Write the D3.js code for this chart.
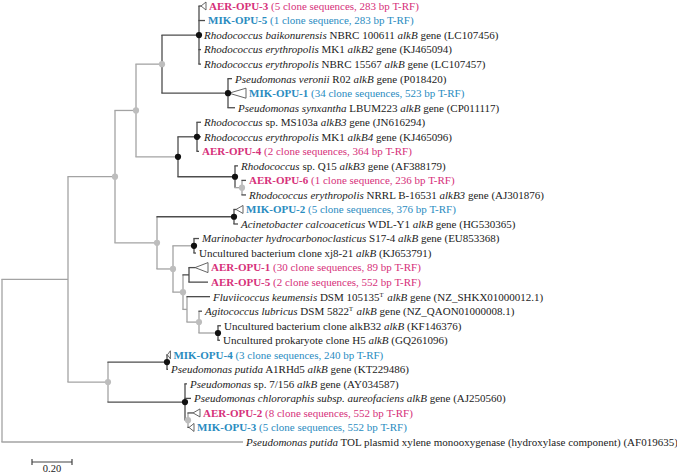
<!DOCTYPE html>
<html><head><meta charset="utf-8">
<script src="https://cdn.jsdelivr.net/npm/d3@7"></script>
<style>
html,body{margin:0;padding:0;background:#fff;}
svg{display:block;}
</style></head>
<body>
<svg id="chart" width="677" height="474"></svg>
<script>
// ---------- DATA ----------
const taxa = ["AER-OPU-3","MIK-OPU-5","R.baik","R.ery.MK1.B2","R.ery.NBRC","P.veronii","MIK-OPU-1","P.synxantha",
  "R.MS103a","R.ery.MK1.B4","AER-OPU-4","R.Q15","AER-OPU-6","R.ery.NRRL","MIK-OPU-2","A.calco","M.hydro","Unc.xj8",
  "AER-OPU-1","AER-OPU-5","F.keum","A.lubr","Unc.alkB32","Unc.H5","MIK-OPU-4","P.putida.A1","P.sp7156","P.chloro",
  "AER-OPU-2","MIK-OPU-3","P.putida.TOL"];
const taxonLabels = [
  "AER-OPU-3| (5 clone sequences, 283 bp T-RF)",
  "MIK-OPU-5| (1 clone sequence, 283 bp T-RF)",
  "*Rhodococcus baikonurensis* NBRC 100611 *alkB* gene (LC107456)",
  "*Rhodococcus erythropolis* MK1 *alkB2* gene (KJ465094)",
  "*Rhodococcus erythropolis* NBRC 15567 *alkB* gene (LC107457)",
  "*Pseudomonas veronii* R02 *alkB* gene (P018420)",
  "MIK-OPU-1| (34 clone sequences, 523 bp T-RF)",
  "*Pseudomonas synxantha* LBUM223 *alkB* gene (CP011117)",
  "*Rhodococcus* sp. MS103a *alkB3* gene (JN616294)",
  "*Rhodococcus erythropolis* MK1 *alkB4* gene (KJ465096)",
  "AER-OPU-4| (2 clone sequences, 364 bp T-RF)",
  "*Rhodococcus* sp. Q15 *alkB3* gene (AF388179)",
  "AER-OPU-6| (1 clone sequence, 236 bp T-RF)",
  "*Rhodococcus erythropolis* NRRL B-16531 *alkB3* gene (AJ301876)",
  "MIK-OPU-2| (5 clone sequences, 376 bp T-RF)",
  "*Acinetobacter calcoaceticus* WDL-Y1 *alkB* gene (HG530365)",
  "*Marinobacter hydrocarbonoclasticus* S17-4 *alkB* gene (EU853368)",
  "Uncultured bacterium clone xj8-21 *alkB* (KJ653791)",
  "AER-OPU-1| (30 clone sequences, 89 bp T-RF)",
  "AER-OPU-5| (2 clone sequences, 552 bp T-RF)",
  "*Fluviicoccus keumensis* DSM 105135^T^ *alkB* gene (NZ_SHKX01000012.1)",
  "*Agitococcus lubricus* DSM 5822^T^ *alkB* gene (NZ_QAON01000008.1)",
  "Uncultured bacterium clone alkB32 *alkB* (KF146376)",
  "Uncultured prokaryote clone H5 *alkB* (GQ261096)",
  "MIK-OPU-4| (3 clone sequences, 240 bp T-RF)",
  "*Pseudomonas putida* A1RHd5 *alkB* gene (KT229486)",
  "*Pseudomonas* sp. 7/156 *alkB* gene (AY034587)",
  "*Pseudomonas chlororaphis subsp. aureofaciens alkB* gene (AJ250560)",
  "AER-OPU-2| (8 clone sequences, 552 bp T-RF)",
  "MIK-OPU-3| (5 clone sequences, 552 bp T-RF)",
  "*Pseudomonas putida* TOL plasmid xylene monooxygenase (hydroxylase component) (AF019635)"
];
// tree edges (child, parent, branch length), in drawing order
const edgeChild = ["A","B","C","D","F","AER-OPU-3","MIK-OPU-5","R.baik","R.ery.MK1.B2","R.ery.NBRC",
  "G","P.veronii","MIK-OPU-1","P.synxantha","E","H","R.MS103a","R.ery.MK1.B4","AER-OPU-4","I","R.Q15","J",
  "AER-OPU-6","R.ery.NRRL","K","L","MIK-OPU-2","A.calco","M","N","M.hydro","Unc.xj8","O","P","AER-OPU-1",
  "AER-OPU-5","Q","F.keum","R","A.lubr","S","Unc.alkB32","Unc.H5","T","U","MIK-OPU-4","P.putida.A1","V",
  "P.sp7156","P.chloro","W","AER-OPU-2","MIK-OPU-3","P.putida.TOL"];
const edgeParent = ["root","A","B","C","D","F","F","F","F","F",
  "D","G","G","G","C","E","H","H","H","E","I","I",
  "J","J","B","K","L","L","K","M","N","N","M","O","P",
  "P","O","Q","Q","R","R","S","S","A","T","U","U","T",
  "V","V","V","W","W","root"];
const edgeLength = [0.33,0.235,0.105,0.13,0.185,0.01,0.03,0.01,0.01,0.01,
  0.33,0.02,0.005,0.035,0.21,0.095,0.02,0.02,0.01,0.285,0.015,0.035,
  0.02,0.02,0.21,0.385,0.01,0.02,0.08,0.105,0.025,0.01,0.05,0.03,0.03,
  0.095,0.02,0.115,0.06,0.015,0.095,0.015,0.01,0.2,0.295,0.002,0.005,0.385,
  0.01,0.03,0.015,0.025,0.005,1.205];
// collapsed clades (depth of collapsed subtree)
const collapsedIds = ["AER-OPU-3","MIK-OPU-1","MIK-OPU-2","AER-OPU-1","MIK-OPU-4","AER-OPU-2","MIK-OPU-3"];
const collapsedDepth = [0.025,0.085,0.035,0.065,0.015,0.035,0.025];
// bootstrap support classes
const supportHigh = ["F","G","E","H","I","L","N","S","U","V"];
const supportMid = ["B","C","D","K","M","O","J","R","W","T"];
const scaleBarValue = 0.2;
const scaleBarLabel = "0.20";

// ---------- STYLE ----------
const colAER = "#d6307a", colMIK = "#2a8cbf";
const lightStroke = "#a3a3a3", darkStroke = "#4d4d4d";
const lightEdges = new Set(["A","B","C","D","E","K","M","N","O","Q","R","S","T","J","W","P.putida.TOL"]);
const lightVerticals = new Set(["root","A","B","C","K","M","O","Q","R","T","J","W"]);
const FONT = "'Liberation Serif','Times New Roman',serif";
const FS = 11;

// ---------- BUILD ----------
const rows = [{id:"root", parentId:"", len:0}].concat(edgeChild.map((c,i)=>({id:c, parentId:edgeParent[i], len:edgeLength[i]})));
const root = d3.stratify().id(d=>d.id).parentId(d=>d.parentId||null)(rows);
root.eachBefore(n => { n.depthLen = n.parent ? n.parent.depthLen + n.data.len : 0; });

const x = d3.scaleLinear().domain([0,1]).range([2,202]);
const y = d3.scalePoint().domain(taxa).range([6,442]);

root.eachAfter(n => {
  if (!n.children) n.yy = y(n.id);
  else n.yy = (n.children[0].yy + n.children[n.children.length-1].yy)/2;
  n.xx = x(n.depthLen);
});

const svg = d3.select("#chart");
const g = svg.append("g");

// vertical connectors
root.descendants().filter(n=>n.children).forEach(n=>{
  const c0 = n.children[0], c1 = n.children[n.children.length-1];
  g.append("line").attr("x1",n.xx).attr("x2",n.xx).attr("y1",c0.yy).attr("y2",c1.yy)
   .attr("stroke", lightVerticals.has(n.id)?lightStroke:darkStroke).attr("stroke-width",1.3);
});
// horizontal branches
root.descendants().filter(n=>n.parent).forEach(n=>{
  g.append("line").attr("x1",n.parent.xx - 0.6).attr("x2",n.xx).attr("y1",n.yy).attr("y2",n.yy)
   .attr("stroke", lightEdges.has(n.id)?lightStroke:darkStroke).attr("stroke-width",1.3);
});
// collapsed triangles
const triEnd = {};
collapsedIds.forEach((id,i)=>{
  const n = root.find(d=>d.id===id);
  const x0 = n.xx, x1 = x(n.depthLen + collapsedDepth[i]);
  const h = collapsedDepth[i] > 0.05 ? 5 : 4;
  g.append("path").attr("d", `M${x0},${n.yy}L${x1},${n.yy-h}L${x1},${n.yy+h}Z`)
   .attr("fill","#fff").attr("stroke","#555").attr("stroke-width",0.9);
  triEnd[id] = x1;
});
// support dots
root.descendants().forEach(n=>{
  let fill = null;
  if (supportHigh.includes(n.id)) fill = "#111";
  else if (supportMid.includes(n.id)) fill = "#bdbdbd";
  if (fill) g.append("circle").attr("cx",n.xx).attr("cy",n.yy).attr("r",3.1).attr("fill",fill);
});

// labels
function addLabel(text, label){
  if (label.includes("|")) {
    const [nm, rest] = label.split("|");
    const col = nm.startsWith("AER") ? colAER : colMIK;
    text.attr("fill", col);
    text.append("tspan").attr("font-weight","bold").text(nm);
    text.append("tspan").text(rest);
    return;
  }
  text.attr("fill","#222");
  const re = /(\*[^*]+\*|\^[^^]+\^)/g;
  const parts = label.split(re).filter(s=>s.length);
  parts.forEach(p=>{
    if (p.startsWith("*")) text.append("tspan").attr("font-style","italic").text(p.slice(1,-1));
    else if (p.startsWith("^")) {
      text.append("tspan").attr("font-size",6.5).attr("dy",-4).text(p.slice(1,-1));
      text.append("tspan").attr("dy",4).text("\u200A");
    } else text.append("tspan").text(p);
  });
}
root.leaves().forEach(n=>{
  const i = taxa.indexOf(n.id);
  const tx = (triEnd[n.id] !== undefined ? triEnd[n.id] : n.xx) + 3;
  const t = g.append("text").attr("x",tx).attr("y",n.yy).attr("dy","0.35em")
    .attr("font-family",FONT).attr("font-size",FS);
  addLabel(t, taxonLabels[i]);
});

// scale bar
const sb0 = 32, sbY = 462;
const sbW = x(scaleBarValue) - x(0);
g.append("line").attr("x1",sb0).attr("x2",sb0+sbW).attr("y1",sbY).attr("y2",sbY).attr("stroke","#444").attr("stroke-width",1.2);
[sb0, sb0+sbW].forEach(px=>g.append("line").attr("x1",px).attr("x2",px).attr("y1",sbY-3).attr("y2",sbY+3).attr("stroke","#444").attr("stroke-width",1.2));
g.append("text").attr("x",sb0+sbW/2).attr("y",sbY+9.5).attr("text-anchor","middle")
  .attr("font-family",FONT).attr("font-size",10.5).attr("fill","#222").text(scaleBarLabel);
</script>
</body></html>
